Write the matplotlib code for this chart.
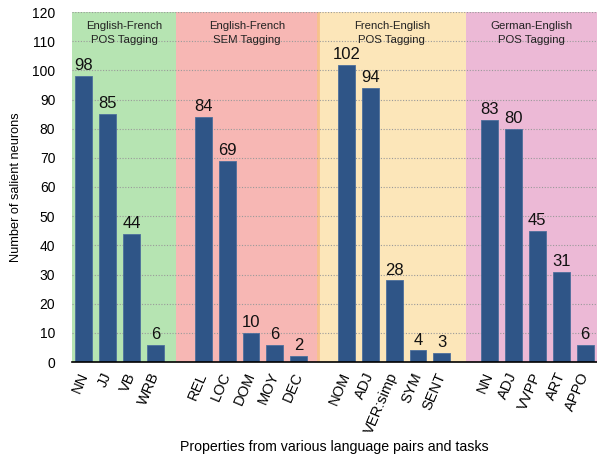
import matplotlib
matplotlib.use("Agg")
import matplotlib.pyplot as plt

plt.rcParams['font.family'] = ['Liberation Sans', 'DejaVu Sans']

groups = ["English-French\nPOS Tagging", "English-French\nSEM Tagging",
          "French-English\nPOS Tagging", "German-English\nPOS Tagging"]
labels_g1 = ["NN", "JJ", "VB", "WRB"]
values_g1 = [98, 85, 44, 6]
labels_g2 = ["REL", "LOC", "DOM", "MOY", "DEC"]
values_g2 = [84, 69, 10, 6, 2]
labels_g3 = ["NOM", "ADJ", "VER:simp", "SYM", "SENT"]
values_g3 = [102, 94, 28, 4, 3]
labels_g4 = ["NN", "ADJ", "VVPP", "ART", "APPO"]
values_g4 = [83, 80, 45, 31, 6]

group_labels = [labels_g1, labels_g2, labels_g3, labels_g4]
group_values = [values_g1, values_g2, values_g3, values_g4]
group_colors = ["#b6e4b2", "#f7b7b4", "#fce6b9", "#ecb9d6"]
bounds = [-0.5, 3.86, 9.8, 16.0, 21.5]

fig = plt.figure(figsize=(5.97, 4.57), dpi=100)
ax = fig.add_axes([72/597, 1-362/457, 525/597, 350/457])

positions, labels, values = [], [], []
start = 0
for labs, vals in zip(group_labels, group_values):
    for i, (l, v) in enumerate(zip(labs, vals)):
        positions.append(start + i)
        labels.append(l)
        values.append(v)
    start += len(labs) + 1

for gi, (g, c) in enumerate(zip(groups, group_colors)):
    ax.axvspan(bounds[gi], bounds[gi+1], color=c, zorder=0, lw=0)
    ax.text((bounds[gi] + bounds[gi+1]) / 2, 112.7, g, ha='center', va='center',
            fontsize=8.2, color='#222222', linespacing=1.45, zorder=3)
ax.axvline(bounds[2], color='#f7c28c', lw=2, zorder=0.2)

for y in range(10, 121, 10):
    ax.axhline(y, color='#9a9a9a', lw=0.8, ls=(0, (1, 1.5)), zorder=0.5)

bars = ax.bar(positions, values, width=0.71, color='#2f5587',
              edgecolor='#4d6f9c', linewidth=0.6, zorder=2)
for p, v in zip(positions, values):
    ax.annotate(str(v), (p, v), xytext=(0, 2), textcoords='offset points',
                ha='center', va='bottom', fontsize=12, color='#111111', zorder=3)

ax.set_xlim(-0.5, 21.5)
ax.set_ylim(0, 120)
ax.set_yticks(range(0, 121, 10))
ax.tick_params(axis='y', length=0, pad=12, labelsize=10)
ax.set_xticks(positions)
ax.set_xticklabels(labels, rotation=67, ha='right', va='center',
                   rotation_mode='anchor', fontsize=10.5)
ax.tick_params(axis='x', length=0, pad=8)
for s in ['top', 'right', 'left']:
    ax.spines[s].set_visible(False)
ax.spines['bottom'].set_color('black')
ax.spines['bottom'].set_linewidth(1.2)
ax.spines['bottom'].set_zorder(4)

ax.set_ylabel("Number of salient neurons", fontsize=9.2)
ax.yaxis.set_label_coords(-0.095, 0.5)
fig.text((72 + 597) / 2 / 597, 1 - 447 / 457, "Properties from various language pairs and tasks",
         ha='center', va='center', fontsize=10.2)

fig.savefig("out.png", dpi=100)
